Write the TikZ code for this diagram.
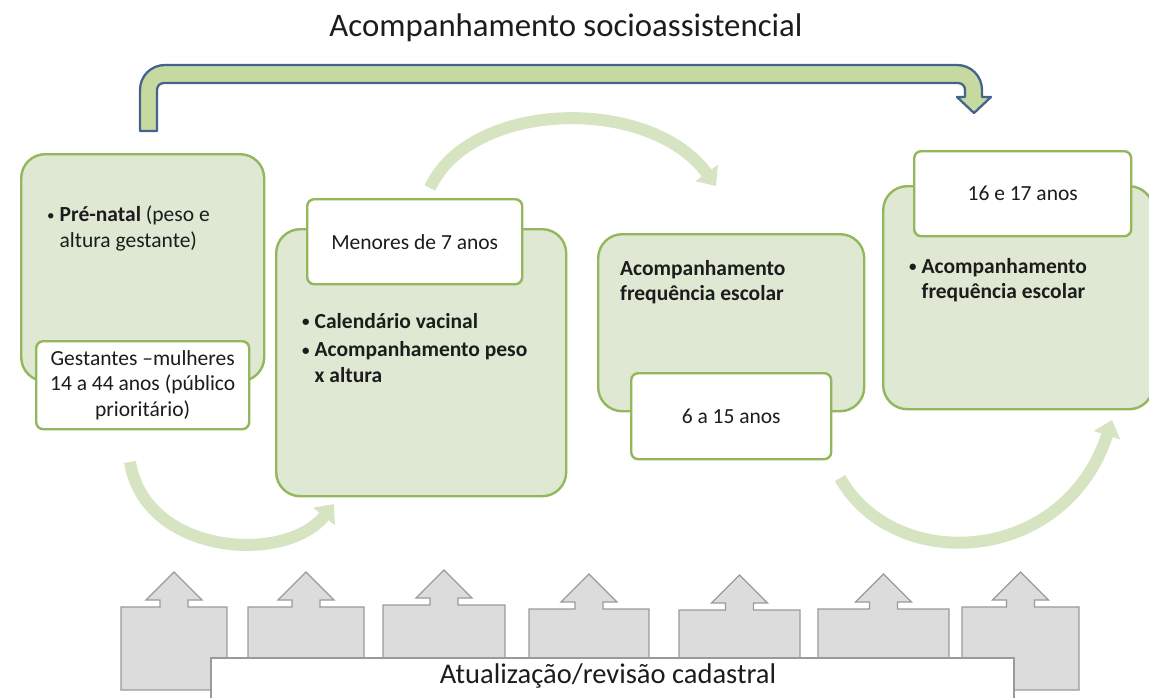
\documentclass[tikz,border=0pt]{standalone}
\usepackage{fontspec}
\setmainfont{Carlito}
\usetikzlibrary{arrows.meta, positioning, calc}
\definecolor{stagefill}{HTML}{DEE8D2}
\definecolor{stagedraw}{HTML}{93B75C}
\definecolor{flowgreen}{HTML}{D6E4C2}
\definecolor{bendfill}{HTML}{C6D9A1}
\definecolor{benddraw}{HTML}{44648A}
\definecolor{updfill}{HTML}{DCDCDC}
\definecolor{upddraw}{HTML}{9A9A9A}
\definecolor{inkdark}{HTML}{1C1C1C}
\newcommand{\bodyfont}{\fontsize{21.5}{25.5}\selectfont}
\newcommand{\itm}{\makebox[13.5pt][l]{\hspace{1pt}\raisebox{1.5pt}{\fontsize{15}{15}\selectfont•}}}
\newcommand{\cont}{\hspace*{13.5pt}}

\begin{document}
\begin{tikzpicture}[x=1pt, y=-1pt,
  stagebox/.style={draw=stagedraw, fill=stagefill, line width=2.4pt, rounded corners=24pt, anchor=north west, inner sep=0pt},
  agebox/.style={draw=stagedraw, fill=white, line width=2.4pt, rounded corners=7pt, anchor=north west, inner sep=0pt, font=\bodyfont, align=center, text=inkdark},
  itemtext/.style={anchor=north west, inner sep=0pt, font=\bodyfont, align=left, text=inkdark},
  cyclearrow/.style={flowgreen, line width=12pt, -{Triangle[width=27pt, length=16pt]}},
  updarrow/.style={fill=updfill, draw=upddraw, line width=1.3pt},
]
  \useasboundingbox (0,0) rectangle (1149,697);

  \node[font=\fontsize{32.8}{33}\selectfont, text=inkdark] (title) at (566,28) {Acompanhamento socioassistencial};

  % Bent arrow over the stages
  \draw[fill=bendfill, draw=benddraw, line width=2.3pt, line join=round]
    (140,131) -- (140,90) .. controls (140,76) and (151,65) .. (165,65) -- (957,65) .. controls (971,65) and (982,76) .. (982,90)
    -- (982,97) -- (991,97) -- (974,113) -- (957,97) -- (965,97) -- (965,90) .. controls (965,86) and (962,83) .. (958,83)
    -- (164,83) .. controls (160,83) and (157,86) .. (157,90) -- (157,131) -- cycle;

  % Curved arrows between stages
  \coordinate (arcAin) at (130,462);
  \coordinate (arcAout) at (334,504);
  \coordinate (arcBin) at (430,188);
  \coordinate (arcBout) at (716,186);
  \coordinate (arcCin) at (840,478);
  \coordinate (arcCout) at (1112,420);
  \draw[cyclearrow] (arcAin) .. controls (145,555) and (285,565) .. (arcAout);
  \draw[cyclearrow] (arcBin) .. controls (470,100) and (650,95) .. (arcBout);
  \draw[cyclearrow] (arcCin) .. controls (895,575) and (1065,565) .. (arcCout);

  % Stage 1
  \node[stagebox, minimum width=243, minimum height=227] (preNatal) at (20,153) {};
  \node[itemtext] (preNatalTxt) at (46,206) {\itm\textbf{Pré-natal} (peso e\\\cont altura gestante)};
  \node[agebox, minimum width=213, minimum height=88] (gestantes) at (35,340) {Gestantes –mulheres\\14 a 44 anos (público\\prioritário)};

  % Stage 2
  \node[stagebox, minimum width=290, minimum height=267] (menores) at (275,228) {};
  \node[agebox, minimum width=215, minimum height=85] (menoresAge) at (306,198) {Menores de 7 anos};
  \node[itemtext, font=\bodyfont\bfseries] (menoresTxt) at (301,313) {\itm Calendário vacinal\\[3pt]\itm Acompanhamento peso\\\cont x altura};

  % Stage 3
  \node[stagebox, minimum width=266, minimum height=177] (escolar) at (597,233) {};
  \node[itemtext, font=\bodyfont\bfseries] (escolarTxt) at (620,260) {Acompanhamento\\frequência escolar};
  \node[agebox, minimum width=200, minimum height=86] (escolarAge) at (630,372) {6 a 15 anos};

  % Stage 4
  \node[stagebox, minimum width=270, minimum height=223] (jovens) at (882,185) {};
  \node[agebox, minimum width=217, minimum height=85] (jovensAge) at (913,150) {16 e 17 anos};
  \node[itemtext, font=\bodyfont\bfseries] (jovensTxt) at (908,258) {\itm Acompanhamento\\\cont frequência escolar};

  % Update arrows
  \foreach \lft/\rgt/\tp in {121/227/607, 248/364/607, 383/505/605, 529/649/609, 679/800/610, 818/949/609, 962/1079/607} {
    \pgfmathsetmacro{\cx}{(\lft+\rgt)/2}
    \draw[updarrow] (\lft,690) -- (\lft,\tp) -- ({\cx-14},\tp) -- ({\cx-14},{\tp-7}) -- ({\cx-28},{\tp-7})
      -- (\cx,{\tp-35}) -- ({\cx+28},{\tp-7}) -- ({\cx+14},{\tp-7}) -- ({\cx+14},\tp) -- (\rgt,\tp) -- (\rgt,690) -- cycle;
  }

  \node[draw=upddraw, fill=white, line width=1.5pt, anchor=north west, minimum width=803, minimum height=50, inner sep=0pt] (updateBar) at (210,657) {};
  \node[font=\fontsize{28.5}{28.5}\selectfont, text=inkdark] (updateTxt) at (608,676) {Atualização/revisão cadastral};
\end{tikzpicture}
\end{document}
